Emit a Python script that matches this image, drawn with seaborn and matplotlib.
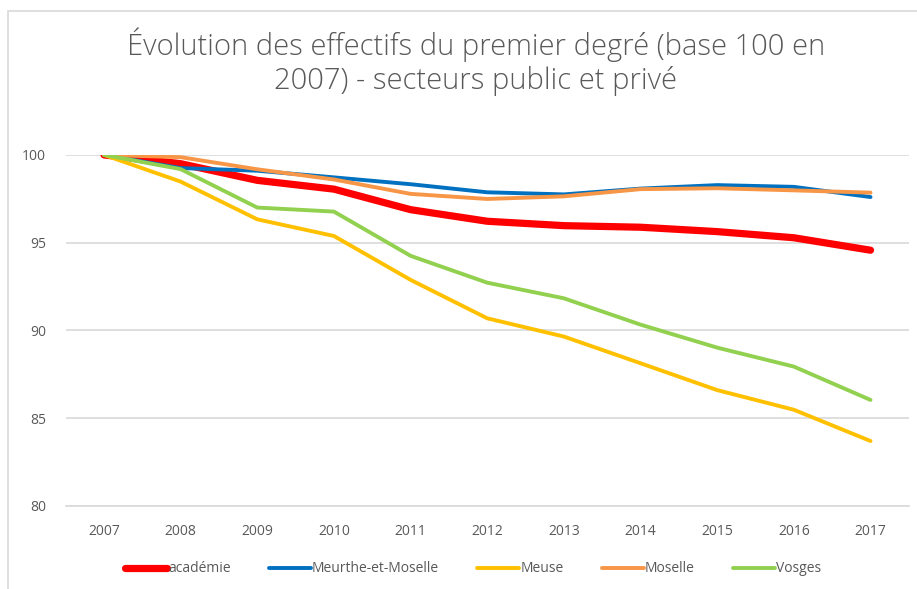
import pandas as pd
import matplotlib.pyplot as plt
import seaborn as sns
from matplotlib.patches import Rectangle

plt.switch_backend('Agg')

# Données (base 100 en 2007)
years = [2007, 2008, 2009, 2010, 2011, 2012, 2013, 2014, 2015, 2016, 2017]
academie = [100, 99.5, 98.55, 98.05, 96.88, 96.22, 95.97, 95.88, 95.63, 95.28, 94.57]
meurthe = [100, 99.25, 99.1, 98.72, 98.33, 97.87, 97.75, 98.08, 98.28, 98.18, 97.6]
meuse = [100, 98.48, 96.33, 95.38, 92.88, 90.69, 89.65, 88.13, 86.6, 85.48, 83.7]
moselle = [100, 99.87, 99.18, 98.6, 97.78, 97.49, 97.64, 98.05, 98.1, 97.98, 97.85]
vosges = [100, 99.19, 97.0, 96.77, 94.25, 92.72, 91.83, 90.33, 89.02, 87.94, 86.04]

series_names = ['académie', 'Meurthe-et-Moselle', 'Meuse', 'Moselle', 'Vosges']
series_values = [academie, meurthe, meuse, moselle, vosges]
colors = ['#FF0000', '#0070C0', '#FFC000', '#F79646', '#92D050']
widths = [5.2, 2.8, 2.8, 2.8, 2.8]

rows = []
for name, vals in zip(series_names, series_values):
    for y, v in zip(years, vals):
        rows.append({'annee': y, 'valeur': v, 'serie': name})
df = pd.DataFrame(rows)

sns.set_theme(style="white")
plt.rcParams['font.family'] = ['Open Sans', 'DejaVu Sans']
grey = '#595959'

fig = plt.figure(figsize=(9.17, 5.89), dpi=100)
ax = fig.add_axes([0.0716, 0.141, 0.9195, 0.596])

for name, col, lw in zip(series_names, colors, widths):
    sns.lineplot(data=df[df['serie'] == name], x='annee', y='valeur', color=col,
                 linewidth=lw, label=name, ax=ax, solid_capstyle='round')

ax.set_xlim(2006.5, 2017.5)
ax.set_ylim(80, 100)
ax.set_yticks([80, 85, 90, 95, 100])
ax.set_xticks(years)
ax.set_xticklabels([str(y) for y in years])
ax.yaxis.grid(True, color='#D9D9D9', linewidth=1.2)
ax.set_axisbelow(True)
for s in ['top', 'right', 'left']:
    ax.spines[s].set_visible(False)
ax.spines['bottom'].set_color('#D9D9D9')
ax.spines['bottom'].set_linewidth(1.2)
ax.tick_params(axis='both', colors=grey, labelsize=10, length=0)
ax.tick_params(axis='x', pad=13)
ax.tick_params(axis='y', pad=14)
ax.set_xlabel('')
ax.set_ylabel('')

ax.legend_.remove()
handles, labels = ax.get_legend_handles_labels()
fig.legend(handles, labels, loc='center', bbox_to_anchor=(0.516, 0.034), ncol=5,
           frameon=False, fontsize=10, handlelength=3.0, handletextpad=0.1,
           columnspacing=2.75, labelcolor=grey)

fig.text(0.519, 0.895, "Évolution des effectifs du premier degré (base 100 en\n2007) - secteurs public et privé",
         ha='center', va='center', fontsize=21, color=grey, linespacing=1.15,
         fontweight='light')

# cadre du graphique
fig.patches.append(Rectangle((8 / 917, -0.05), 1.2, 1 - 11 / 589 + 0.05,
                             transform=fig.transFigure, fill=False,
                             edgecolor='#D9D9D9', linewidth=1.2))

plt.savefig('out.png', dpi=100)
